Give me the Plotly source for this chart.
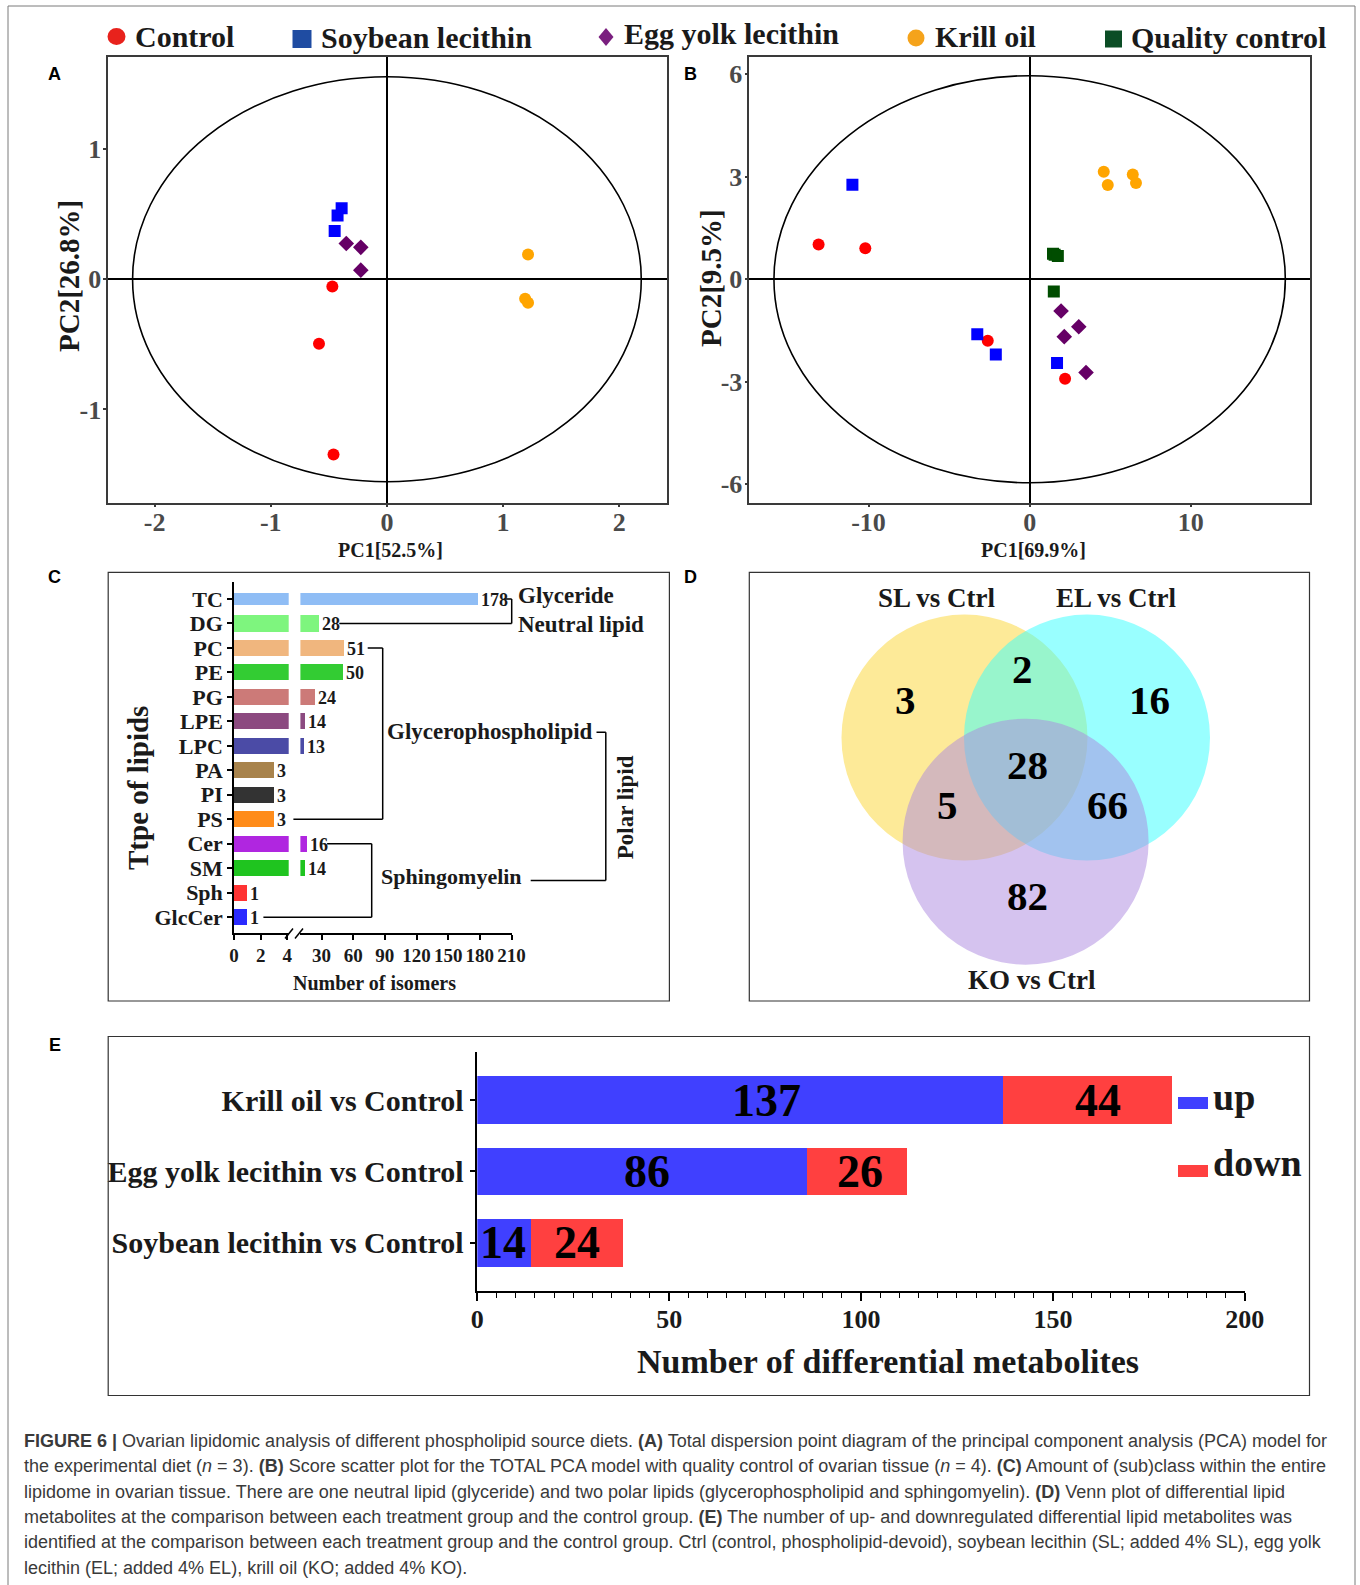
import plotly.graph_objects as go

W, H = 1360, 1585
SERIF = "Liberation Serif, Times New Roman, serif"
SANS = "Liberation Sans, Arial, Helvetica, sans-serif"
INK = "#1a1a1a"

# ---------------- data ----------------
# Panel A: PCA scores (experimental diets, n = 3)
a_ctrl_pc1 = [-0.47, -0.585, -0.46]
a_ctrl_pc2 = [-0.055, -0.495, -1.345]
a_sl_pc1 = [-0.39, -0.425, -0.45]
a_sl_pc2 = [0.545, 0.49, 0.37]
a_el_pc1 = [-0.35, -0.225, -0.225]
a_el_pc2 = [0.275, 0.245, 0.07]
a_ko_pc1 = [1.215, 1.19, 1.215]
a_ko_pc2 = [0.19, -0.15, -0.18]
a_ellipse = [2.19, 1.555]          # semi-axes of the Hotelling T2 ellipse
a_xticks = [-2, -1, 0, 1, 2]
a_yticks = [-1, 0, 1]

# Panel B: PCA scores with quality control (n = 4)
b_ctrl_pc1 = [-13.1, -10.2, -2.6, 2.2]
b_ctrl_pc2 = [1.02, 0.91, -1.80, -2.91]
b_sl_pc1 = [-11.0, -3.25, -2.1, 1.7]
b_sl_pc2 = [2.77, -1.61, -2.2, -2.45]
b_el_pc1 = [1.95, 3.05, 2.15, 3.5]
b_el_pc2 = [-0.93, -1.39, -1.68, -2.73]
b_ko_pc1 = [4.6, 4.85, 6.4, 6.6]
b_ko_pc2 = [3.15, 2.76, 3.07, 2.82]
b_qc_pc1 = [1.45, 1.55, 1.75, 1.5]
b_qc_pc2 = [0.75, 0.72, 0.68, -0.36]
b_ellipse = [15.87, 5.96]
b_xticks = [-10, 0, 10]
b_yticks = [-6, -3, 0, 3, 6]

# Panel C: number of isomers per lipid (sub)class
lipid_classes = ["TC", "DG", "PC", "PE", "PG", "LPE", "LPC", "PA", "PI", "PS",
                 "Cer", "SM", "Sph", "GlcCer"]
isomer_counts = [178, 28, 51, 50, 24, 14, 13, 3, 3, 3, 16, 14, 1, 1]
class_colors = ["#8fbdf5", "#7ef57e", "#f0b67e", "#33cc33", "#cc7a78", "#8c4a80",
                "#4b4ba6", "#a8834c", "#333333", "#ff8c1a", "#b026e0", "#1fc41f",
                "#ff3333", "#2a2aff"]
break_low, break_high, axis_max = 4.1, 10, 210
c_low_ticks = [0, 2, 4]
c_high_ticks = [30, 60, 90, 120, 150, 180, 210]

# Panel D: Venn counts
venn_sets = ["SL vs Ctrl", "EL vs Ctrl", "KO vs Ctrl"]
venn_regions = ["SL", "SL&EL", "EL", "SL&EL&KO", "SL&KO", "EL&KO", "KO"]
venn_counts = [3, 2, 16, 28, 5, 66, 82]

# Panel E: up / down regulated differential metabolites
comparisons = ["Soybean lecithin vs Control", "Egg yolk lecithin vs Control",
               "Krill oil vs Control"]
up_counts = [14, 86, 137]
down_counts = [24, 26, 44]
e_xticks = [0, 50, 100, 150, 200]

# legend of groups
group_names = ["Control", "Soybean lecithin", "Egg yolk lecithin", "Krill oil", "Quality control"]
plot_colors = ["#ff0000", "#0000ff", "#660066", "#ffa500", "#004d00"]
legend_colors = ["#e8221c", "#1f4ca2", "#7a1f7f", "#f5a31b", "#0b4d25"]


# ---------------- helpers ----------------
def fx(x):
    return x / W


def fy(y):
    return 1 - y / H


annotations = []
shapes = []


def text(t, x, y, size, family=SERIF, weight="bold", color=INK, xanchor="center",
         yanchor="middle", angle=0, xref="paper", yref="paper", xshift=0):
    annotations.append(dict(
        text=t, showarrow=False, textangle=angle, xshift=xshift,
        x=fx(x) if xref == "paper" else x, y=fy(y) if yref == "paper" else y,
        xref=xref, yref=yref, xanchor=xanchor, yanchor=yanchor,
        font=dict(family=family, size=size, color=color, weight=weight)))


def seg(x0, y0, x1, y1, yref="paper", width=1.5, color="black"):
    shapes.append(dict(type="line", xref="paper", yref=yref,
                       x0=fx(x0), x1=fx(x1),
                       y0=fy(y0) if yref == "paper" else y0,
                       y1=fy(y1) if yref == "paper" else y1,
                       line=dict(color=color, width=width)))


def box(x0, y0, x1, y1, color="#333333", width=1.2):
    shapes.append(dict(type="rect", xref="paper", yref="paper",
                       x0=fx(x0), x1=fx(x1), y0=fy(y1), y1=fy(y0),
                       line=dict(color=color, width=width)))


def hyphen_labels(vals):
    return [str(v).replace("\u2212", "-") for v in vals]


fig = go.Figure()

# ---------------- panels A and B (PCA) ----------------
pca_sets = [
    ("x", "y", [(a_ctrl_pc1, a_ctrl_pc2, 0, "circle"), (a_sl_pc1, a_sl_pc2, 1, "square"),
                (a_el_pc1, a_el_pc2, 2, "diamond"), (a_ko_pc1, a_ko_pc2, 3, "circle")]),
    ("x2", "y2", [(b_ctrl_pc1, b_ctrl_pc2, 0, "circle"), (b_sl_pc1, b_sl_pc2, 1, "square"),
                  (b_el_pc1, b_el_pc2, 2, "diamond"), (b_ko_pc1, b_ko_pc2, 3, "circle"),
                  (b_qc_pc1, b_qc_pc2, 4, "square")]),
]
for xa, ya, series in pca_sets:
    for xs, ys, gi, sym in series:
        fig.add_trace(go.Scatter(
            x=xs, y=ys, xaxis=xa, yaxis=ya, mode="markers", name=group_names[gi],
            marker=dict(symbol=sym, size=12, color=plot_colors[gi], line=dict(width=0))))

for xa, ya, (ea, eb) in [("x", "y", a_ellipse), ("x2", "y2", b_ellipse)]:
    shapes.append(dict(type="circle", xref=xa, yref=ya, x0=-ea, x1=ea, y0=-eb, y1=eb,
                       line=dict(color="black", width=1.6), layer="below"))

pca_axis = dict(showgrid=False, zeroline=True, zerolinecolor="black", zerolinewidth=2,
                showline=True, mirror=True, linecolor="#3a3a3a", linewidth=1.5,
                ticks="outside", ticklen=3, tickwidth=1.5, tickcolor="#3a3a3a",
                automargin=False,
                tickfont=dict(family=SERIF, size=26, color="#4a4a4a", weight="bold"))

fig.update_layout(
    xaxis=dict(pca_axis, domain=[fx(108.2), fx(667.4)], range=[-2.40, 2.415],
               tickvals=a_xticks, ticktext=hyphen_labels(a_xticks), anchor="y",
               ticklabelstandoff=-8),
    yaxis=dict(pca_axis, domain=[fy(502.6), fy(56.6)], range=[-1.715, 1.71],
               tickvals=a_yticks, ticktext=hyphen_labels(a_yticks), anchor="x",
               ticklabelstandoff=-3),
    xaxis2=dict(pca_axis, domain=[fx(749.3), fx(1309.5)], range=[-17.4, 17.37],
                tickvals=b_xticks, ticktext=hyphen_labels(b_xticks), anchor="y2",
                ticklabelstandoff=-8),
    yaxis2=dict(pca_axis, domain=[fy(502.6), fy(56.6)], range=[-6.54, 6.52],
                tickvals=b_yticks, ticktext=hyphen_labels(b_yticks), anchor="x2",
                ticklabelstandoff=-3),
)

text("PC1[52.5%]", 390, 550, 20)
text("PC2[26.8%]", 69, 276, 29, angle=-90)
text("PC1[69.9%]", 1033, 550, 20)
text("PC2[9.5%]", 711, 278, 29, angle=-90)

# ---------------- panel C (broken-axis bar chart) ----------------
n_cls = len(lipid_classes)
bar_widths = [0.5] + [0.66] * (n_cls - 1)
left_vals = [min(v, break_low) for v in isomer_counts]
right_vals = [v if v > break_low else None for v in isomer_counts]
fig.add_trace(go.Bar(x=left_vals, y=list(range(n_cls)), orientation="h", xaxis="x3",
                     yaxis="y3", marker=dict(color=class_colors, line=dict(width=0)),
                     width=bar_widths))
fig.add_trace(go.Bar(x=right_vals, y=list(range(n_cls)), orientation="h", xaxis="x4",
                     yaxis="y3", marker=dict(color=class_colors, line=dict(width=0)),
                     width=bar_widths))
for i, v in enumerate(isomer_counts):
    annotations.append(dict(
        text=str(v), showarrow=False, x=v, y=i, xref="x4" if v > break_low else "x3",
        yref="y3", xanchor="left", yanchor="middle", xshift=1, yshift=-1,
        font=dict(family=SERIF, size=18, color=INK, weight="bold")))

c_axis = dict(showgrid=False, zeroline=False, showline=True, linecolor="black",
              linewidth=1.5, ticks="outside", ticklen=5, tickwidth=1.5,
              tickcolor="black", automargin=False,
              tickfont=dict(family=SERIF, size=19, color=INK, weight="bold"))
fig.update_layout(
    xaxis3=dict(c_axis, domain=[fx(234.0), fx(288.7)], range=[0, break_low],
                tickvals=c_low_ticks, anchor="y3"),
    xaxis4=dict(c_axis, domain=[fx(300.4), fx(511.5)], range=[break_high, axis_max],
                tickvals=c_high_ticks, anchor="y3"),
    yaxis3=dict(c_axis, domain=[fy(932.8), fy(581.6)], range=[13.64, -0.71],
                tickvals=list(range(n_cls)), ticktext=lipid_classes, anchor="x3",
                tickfont=dict(family=SERIF, size=22, color=INK, weight="bold")),
)
# axis break marks
seg(285, 938.5, 293, 928.5)
seg(295, 938.5, 303, 928.5)

text("Ttpe of lipids", 138, 788, 29, angle=-90)
text("Number of isomers", 374, 983, 20)

# class brackets
seg(503.6, 0, 511.7, 0, yref="y3")
seg(511.7, 0, 511.7, 1, yref="y3")
seg(339.3, 1, 511.7, 1, yref="y3")
seg(367.7, 2, 382.7, 2, yref="y3")
seg(382.7, 2, 382.7, 9, yref="y3")
seg(293.4, 9, 382.7, 9, yref="y3")
seg(327.1, 10, 371.7, 10, yref="y3")
seg(371.7, 10, 371.7, 13, yref="y3")
seg(263.4, 13, 371.7, 13, yref="y3")
seg(596.5, 5.45, 605.8, 5.45, yref="y3")
seg(605.8, 5.45, 605.8, 11.5, yref="y3")
seg(530.7, 11.5, 605.8, 11.5, yref="y3")

text("Glyceride", 515.7, -0.15, 23, xanchor="left", yref="y3")
text("Neutral lipid", 515.7, 1.05, 23, xanchor="left", yref="y3")
text("Glycerophospholipid", 385.1, 5.4, 23, xanchor="left", yref="y3")
text("Sphingomyelin", 378.6, 11.33, 22, xanchor="left", yref="y3")
text("Polar lipid", 625.3, 8.5, 23, angle=-90, yref="y3")

# ---------------- panel D (Venn) ----------------
venn_centres = [(964.5, 737.6), (1087.0, 737.6), (1025.6, 841.7)]
venn_fill = ["rgba(251,213,50,0.5)", "rgba(51,255,255,0.5)", "rgba(171,136,224,0.5)"]
venn_r = 123
for (cx, cy), col in zip(venn_centres, venn_fill):
    shapes.append(dict(type="circle", xref="paper", yref="paper",
                       x0=fx(cx - venn_r), x1=fx(cx + venn_r),
                       y0=fy(cy + venn_r), y1=fy(cy - venn_r),
                       fillcolor=col, line=dict(width=0), layer="below"))
venn_label_pos = [(937.4, 597.5), (1116, 597.5), (1032, 979.5)]
for name, (lx, ly) in zip(venn_sets, venn_label_pos):
    text(name, lx, ly, 27)
venn_count_pos = [(905.3, 699.5), (1022, 669), (1149, 700), (1027.3, 765.3),
                  (947.2, 805), (1107.7, 805), (1027.3, 896.3)]
for cnt, (vx, vy) in zip(venn_counts, venn_count_pos):
    text(str(cnt), vx, vy, 41, color="black")

# ---------------- panel E (stacked bars) ----------------
fig.add_trace(go.Bar(x=up_counts, y=comparisons, orientation="h", xaxis="x5", yaxis="y5",
                     name="up", marker=dict(color="#4040ff", line=dict(width=0)),
                     width=0.665))
fig.add_trace(go.Bar(x=down_counts, y=comparisons, orientation="h", xaxis="x5", yaxis="y5",
                     name="down", marker=dict(color="#ff4040", line=dict(width=0)),
                     width=0.665))
# value labels at the middle of each stacked segment
up_shift = [-1, 5, 26]
down_shift = [0, 3, 11]
for k, comp in enumerate(comparisons):
    u, d = up_counts[k], down_counts[k]
    text(str(u), u / 2, k, 46, color="black", xref="x5", yref="y5", xshift=up_shift[k])
    text(str(d), u + d / 2, k, 46, color="black", xref="x5", yref="y5",
         xshift=down_shift[k])

fig.update_layout(
    xaxis5=dict(domain=[fx(477.3), fx(1244.8)], range=[0, 200], anchor="y5",
                showgrid=False, zeroline=False, showline=True, linecolor="black",
                linewidth=1.5, ticks="outside", ticklen=8, tickwidth=1.5,
                tickcolor="black", tickvals=e_xticks, automargin=False,
                ticklabelstandoff=-4,
                minor=dict(ticks="outside", dtick=5, ticklen=5, tickwidth=1.2,
                           tickcolor="black", showgrid=False),
                tickfont=dict(family=SERIF, size=26, color=INK, weight="bold")),
    yaxis5=dict(domain=[fy(1291.3), fy(1051.6)], range=[-0.68, 2.68], anchor="x5",
                type="category", categoryarray=comparisons, showgrid=False,
                zeroline=False, showline=True, linecolor="black", linewidth=1.5,
                ticks="outside", ticklen=6, tickwidth=1.5, tickcolor="black",
                automargin=False,
                tickfont=dict(family=SERIF, size=30, color=INK, weight="bold")),
)
text("Number of differential metabolites", 888, 1361, 34)
shapes.append(dict(type="rect", xref="paper", yref="paper", x0=fx(1178), x1=fx(1208),
                   y0=fy(1109), y1=fy(1097), fillcolor="#4040ff", line=dict(width=0)))
shapes.append(dict(type="rect", xref="paper", yref="paper", x0=fx(1178), x1=fx(1208),
                   y0=fy(1177), y1=fy(1165), fillcolor="#ff4040", line=dict(width=0)))
text("up", 1211, 1097, 38, xanchor="left")
text("down", 1211, 1163, 38, xanchor="left")

# ---------------- group legend ----------------
def ellipse_marker(cx, cy, rx, ry, col):
    shapes.append(dict(type="circle", xref="paper", yref="paper", x0=fx(cx - rx),
                       x1=fx(cx + rx), y0=fy(cy + ry), y1=fy(cy - ry),
                       fillcolor=col, line=dict(width=0)))


def rect_marker(x0, y0, x1, y1, col):
    shapes.append(dict(type="rect", xref="paper", yref="paper", x0=fx(x0), x1=fx(x1),
                       y0=fy(y1), y1=fy(y0), fillcolor=col, line=dict(width=0)))


ellipse_marker(116.5, 36.5, 9, 8.5, legend_colors[0])
rect_marker(292.5, 30, 311.5, 48, legend_colors[1])
dcx, dcy = 606, 37
shapes.append(dict(type="path", xref="paper", yref="paper",
                   path=f"M {fx(dcx)},{fy(dcy - 9)} L {fx(dcx + 7.5)},{fy(dcy)} "
                        f"L {fx(dcx)},{fy(dcy + 9)} L {fx(dcx - 7.5)},{fy(dcy)} Z",
                   fillcolor=legend_colors[2], line=dict(width=0)))
ellipse_marker(916, 38, 8.5, 8.5, legend_colors[3])
rect_marker(1105, 30.5, 1122, 47.5, legend_colors[4])
legend_text_pos = [(133, 36), (319, 38), (622, 33), (933, 37), (1129, 38)]
for name, (lx, ly) in zip(group_names, legend_text_pos):
    text(name, lx, ly, 30, xanchor="left")

# ---------------- panel frames and letters ----------------
box(8, 6, 1355, 1600, color="#7a7a7a", width=1)
box(108.2, 572.3, 669.4, 1001, color="#333333")
box(749.3, 572.3, 1309.5, 1001, color="#333333")
box(108.2, 1036.5, 1309.5, 1395.5, color="#333333")
for letter, (lx, ly) in zip("ABCDE", [(54.6, 74), (690.6, 74), (54.6, 577.5),
                                      (690.6, 577.5), (54.6, 1045)]):
    text(letter, lx, ly, 18, family=SANS, color="black")

# ---------------- caption ----------------
caption_lines = [
    "<b>FIGURE 6 |</b> Ovarian lipidomic analysis of different phospholipid source diets. "
    "<b>(A)</b> Total dispersion point diagram of the principal component analysis (PCA) model for",
    "the experimental diet (<i>n</i> = 3). <b>(B)</b> Score scatter plot for the TOTAL PCA model "
    "with quality control of ovarian tissue (<i>n</i> = 4). <b>(C)</b> Amount of (sub)class within the entire",
    "lipidome in ovarian tissue. There are one neutral lipid (glyceride) and two polar lipids "
    "(glycerophospholipid and sphingomyelin). <b>(D)</b> Venn plot of differential lipid",
    "metabolites at the comparison between each treatment group and the control group. "
    "<b>(E)</b> The number of up- and downregulated differential lipid metabolites was",
    "identified at the comparison between each treatment group and the control group. Ctrl "
    "(control, phospholipid-devoid), soybean lecithin (SL; added 4% SL), egg yolk",
    "lecithin (EL; added 4% EL), krill oil (KO; added 4% KO).",
]
for k, line in enumerate(caption_lines):
    text(line, 22, 1441 + 25.3 * k, 18, family=SANS, weight="normal", color="#3a3a3a",
         xanchor="left")

fig.update_layout(
    width=W, height=H,
    margin=dict(l=0, r=0, t=0, b=0, pad=0, autoexpand=False),
    paper_bgcolor="white", plot_bgcolor="rgba(0,0,0,0)",
    showlegend=False, barmode="stack", bargap=0.3,
    annotations=annotations, shapes=shapes,
)

fig.write_html("out.html")
